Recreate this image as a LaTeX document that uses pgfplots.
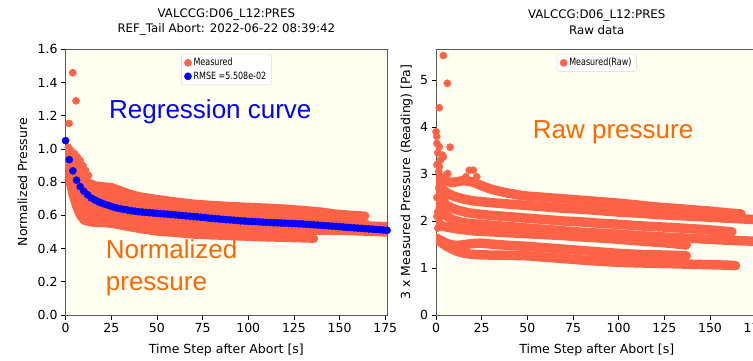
\documentclass[border=0pt]{standalone}
\usepackage{fontspec}
\setmainfont{DejaVu Sans}
\newfontfamily\annfont{Liberation Sans}
\newfontfamily\legfont[FakeStretch=0.8]{DejaVu Sans}
\usepackage{pgfplots}
\pgfplotsset{compat=1.18}
\definecolor{tomato}{RGB}{255,99,71}
\definecolor{bgivory}{RGB}{255,255,242}
\definecolor{annorange}{RGB}{255,102,0}
\definecolor{spine}{RGB}{90,90,90}
\pgfplotsset{
  base/.style={
    scale only axis,
    width=321.5pt, height=265.7pt,
    xmin=0, xmax=176, ymin=0,
    anchor=origin,
    axis background/.style={fill=bgivory},
    axis line style={spine, line width=0.9pt},
    tick align=outside, tick pos=left,
    major tick length=4.5pt,
    every tick/.style={black, line width=0.8pt},
    xtick={0,25,50,75,100,125,150,175},
    ticklabel style={font=\fontsize{12.5}{15}\selectfont},
    /pgf/number format/assume math mode=true,
    scaled ticks=false,
    xlabel={Time Step after Abort [s]},
    xlabel style={font=\fontsize{12.5}{15}\selectfont, at={(axis description cs:0.5,-0.132)}, anchor=center},
    ylabel style={font=\fontsize{12.5}{15}\selectfont, anchor=center},
    title style={font=\fontsize{11.8}{15.5}\selectfont, align=center, at={(axis description cs:0.5,1.08)}, anchor=center},
    legend style={at={(0.5,0.982)}, anchor=north, draw=gray!30, fill=white, rounded corners=1.5pt, font=\legfont\fontsize{10}{12}\selectfont, inner xsep=3pt, inner ysep=2pt, row sep=0.5pt},
    legend cell align=left,
  },
  trace/.style={no markers, color=tomato, line width=8.5pt, line join=round, line cap=round, forget plot},
  rtrace/.style={trace, line width=9.5pt},
  dots/.style={only marks, mark=*, mark size=3.6pt, color=tomato},
  bdots/.style={only marks, mark=*, mark size=3.6pt, color=blue},
}
\begin{document}
\begin{tikzpicture}[x=1pt,y=1pt]
\useasboundingbox (0,0) rectangle (753,360);
% ---------------- left: normalized ----------------
\begin{axis}[base, at={(65.6pt,45pt)}, ymax=1.6,
  ytick={0,0.2,0.4,0.6,0.8,1.0,1.2,1.4,1.6},
  yticklabel={\pgfmathprintnumber[fixed,fixed zerofill,precision=1]{\tick}},
  ylabel={Normalized Pressure},
  ylabel style={at={(axis description cs:-0.134,0.5)}},
  title={VALCCG:D06\_L12:PRES\\REF\_Tail Abort: 2022-06-22 08:39:42}]
\addlegendimage{dots}
\addlegendentry{Measured}
\addlegendimage{bdots}
\addlegendentry{RMSE =5.508e-02}
% La
\addplot[trace] coordinates {(0,1.00)(2,0.95)(4,0.91)(6,0.88)(8,0.85)(10,0.82)(13,0.795)(16,0.78)(20,0.775)(25,0.77)(30,0.75)(35,0.73)(40,0.715)(45,0.706)(50,0.698)(60,0.683)(70,0.670)(80,0.662)(90,0.656)(100,0.651)(110,0.646)(120,0.640)(130,0.632)(140,0.622)(147,0.611)(155,0.604)(161,0.60)(164,0.597)};
% Lc
\addplot[trace] coordinates {(0,0.99)(2,0.93)(4,0.88)(6,0.84)(8,0.81)(10,0.78)(13,0.76)(16,0.745)(20,0.735)(25,0.725)(30,0.712)(35,0.70)(40,0.688)(45,0.677)(50,0.667)(60,0.655)(70,0.645)(80,0.637)(90,0.63)(100,0.623)(110,0.617)(120,0.611)(130,0.604)(140,0.597)(150,0.59)(157,0.584)(162,0.58)};
% Lg
\addplot[trace] coordinates {(0,0.98)(2,0.91)(4,0.85)(6,0.80)(8,0.77)(10,0.74)(13,0.72)(16,0.705)(20,0.695)(25,0.685)(30,0.675)(35,0.664)(40,0.653)(45,0.643)(50,0.634)(60,0.622)(70,0.613)(80,0.605)(90,0.598)(100,0.593)(110,0.587)(120,0.582)(130,0.576)(140,0.57)(150,0.565)(158,0.56)(164,0.555)};
% Lb
\addplot[trace] coordinates {(0,0.97)(2,0.89)(4,0.82)(6,0.77)(8,0.73)(10,0.70)(13,0.68)(16,0.665)(20,0.655)(25,0.645)(30,0.636)(35,0.626)(40,0.617)(45,0.608)(50,0.60)(60,0.59)(70,0.581)(80,0.574)(90,0.568)(100,0.563)(110,0.559)(120,0.555)(130,0.551)(140,0.547)(150,0.544)(160,0.54)(170,0.537)(176,0.535)};
% Le
\addplot[trace] coordinates {(0,0.96)(2,0.87)(4,0.79)(6,0.73)(8,0.69)(10,0.66)(13,0.64)(16,0.625)(20,0.615)(25,0.607)(30,0.598)(35,0.59)(40,0.582)(45,0.575)(50,0.568)(60,0.556)(70,0.547)(80,0.54)(90,0.535)(100,0.532)(110,0.527)(120,0.523)(130,0.518)(137,0.515)};
% Ld
\addplot[trace] coordinates {(0,0.95)(2,0.85)(4,0.76)(6,0.69)(8,0.645)(10,0.62)(13,0.60)(16,0.59)(20,0.585)(25,0.578)(30,0.568)(35,0.558)(40,0.55)(45,0.542)(50,0.535)(60,0.525)(70,0.517)(80,0.512)(90,0.508)(100,0.505)(110,0.505)(120,0.506)(130,0.507)(140,0.508)(150,0.507)(160,0.504)(170,0.50)(176,0.497)};
% Lf
\addplot[trace] coordinates {(0,0.93)(2,0.82)(4,0.72)(6,0.65)(8,0.60)(10,0.57)(13,0.56)(16,0.555)(20,0.555)(25,0.55)(30,0.54)(40,0.52)(50,0.503)(60,0.495)(70,0.485)(80,0.48)(90,0.476)(100,0.472)(110,0.468)(120,0.465)(130,0.462)(136,0.46)};
% early scattered measured points
\addplot[dots, forget plot] coordinates {(1.9,1.154)(3.9,1.459)(5.7,1.29)(1.5,1.01)(3,0.99)(5,0.97)(6.5,0.95)(8,0.93)(9.5,0.90)(11,0.87)(7,0.91)(12.5,0.84)};
% regression
\addplot[bdots, forget plot] coordinates {(0,1.05)(2,0.935)(4,0.868)(6,0.812)(8,0.773)(10,0.745)(12,0.724)(14,0.705)(16,0.693)(18,0.682)(20,0.673)(22,0.665)(24,0.658)(26,0.651)(28,0.645)(30,0.640)(32,0.636)(34,0.632)(36,0.628)(38,0.625)(40,0.622)(42,0.620)(44,0.618)(46,0.616)(48,0.614)
(50,0.612)(52,0.610)(54,0.609)(56,0.607)(58,0.605)(60,0.603)(62,0.601)(64,0.599)(66,0.597)(68,0.595)(70,0.593)(72,0.591)(74,0.589)(76,0.587)(78,0.584)(80,0.582)(82,0.580)(84,0.578)(86,0.576)(88,0.574)(90,0.573)(92,0.571)(94,0.569)(96,0.567)(98,0.566)(100,0.564)(102,0.563)(104,0.562)(106,0.561)(108,0.559)(110,0.558)(112,0.557)(114,0.556)(116,0.555)(118,0.554)(120,0.553)(122,0.552)(124,0.551)(126,0.550)(128,0.549)(130,0.548)(132,0.546)(134,0.545)(136,0.543)(138,0.542)(140,0.540)(142,0.538)(144,0.537)(146,0.535)(148,0.534)(150,0.532)(152,0.530)(154,0.528)(156,0.527)(158,0.525)(160,0.523)(162,0.522)(164,0.520)(166,0.518)(168,0.517)(170,0.515)(172,0.514)(174,0.512)(176,0.510)};
\end{axis}
% ---------------- right: raw ----------------
\begin{axis}[base, at={(436pt,45pt)}, ymax=5.653,
  ytick={0,1,2,3,4,5},
  ylabel={3 x Measured Pressure (Reading) [Pa]},
  ylabel style={at={(axis description cs:-0.091,0.5)}},
  title={VALCCG:D06\_L12:PRES\\Raw data}]
\addlegendimage{dots}
\addlegendentry{Measured(Raw)}
% T1
\addplot[rtrace] coordinates {(0,2.95)(3,2.88)(6,2.84)(9,2.82)(12,2.84)(15,2.86)(20,2.83)(25,2.75)(30,2.68)(35,2.63)(40,2.59)(45,2.555)(50,2.53)(60,2.50)(70,2.47)(80,2.44)(90,2.41)(100,2.38)(110,2.34)(120,2.30)(130,2.27)(140,2.24)(150,2.21)(160,2.17)(167,2.15)};
% T2
\addplot[rtrace] coordinates {(0,2.80)(3,2.68)(6,2.60)(9,2.54)(12,2.50)(16,2.46)(20,2.43)(25,2.41)(30,2.39)(40,2.36)(50,2.33)(60,2.30)(70,2.27)(80,2.25)(90,2.22)(100,2.19)(110,2.17)(120,2.14)(130,2.12)(140,2.10)(150,2.08)(160,2.06)(170,2.04)(176,2.03)};
% T3
\addplot[rtrace] coordinates {(0,2.55)(3,2.42)(6,2.33)(9,2.27)(12,2.23)(16,2.19)(20,2.16)(25,2.14)(30,2.12)(40,2.09)(50,2.06)(60,2.03)(70,2.00)(80,1.98)(90,1.95)(100,1.93)(110,1.90)(120,1.88)(130,1.86)(140,1.835)(150,1.81)(157,1.785)(162,1.77)};
% T4
\addplot[rtrace] coordinates {(0,2.35)(3,2.20)(6,2.10)(9,2.03)(12,1.99)(16,1.96)(20,1.94)(25,1.93)(30,1.91)(40,1.88)(50,1.85)(60,1.82)(70,1.79)(80,1.76)(90,1.74)(100,1.72)(110,1.69)(120,1.67)(130,1.65)(140,1.63)(150,1.61)(160,1.59)(170,1.575)(176,1.57)};
% T5
\addplot[rtrace] coordinates {(0,1.95)(3,1.90)(6,1.87)(9,1.85)(12,1.83)(16,1.81)(20,1.79)(25,1.78)(30,1.77)(40,1.75)(50,1.73)(60,1.71)(70,1.69)(80,1.66)(90,1.64)(100,1.61)(110,1.58)(120,1.55)(130,1.52)(137,1.49)};
% T6
\addplot[rtrace] coordinates {(0,1.64)(3,1.58)(6,1.52)(9,1.49)(12,1.48)(16,1.50)(20,1.52)(25,1.53)(30,1.51)(40,1.48)(50,1.46)(60,1.43)(70,1.40)(80,1.37)(90,1.34)(100,1.31)(110,1.29)(120,1.28)(130,1.27)(137,1.26)};
% T7
\addplot[rtrace] coordinates {(0,1.62)(3,1.54)(6,1.46)(9,1.40)(12,1.35)(16,1.31)(20,1.29)(25,1.28)(30,1.275)(40,1.27)(50,1.26)(60,1.23)(70,1.20)(80,1.17)(90,1.145)(100,1.12)(110,1.11)(120,1.10)(130,1.09)(140,1.08)(150,1.07)(160,1.06)(164,1.05)};
% early scattered points
\addplot[dots, forget plot] coordinates {(0.4,3.80)(1.8,4.41)(1.8,3.58)(1.8,3.16)(4.0,5.52)(4.0,3.36)(3.6,3.40)(5.5,2.98)(6.2,4.93)(6.4,3.01)(7.7,3.57)(0,3.9)(0.5,3.65)(1,3.45)(0.5,3.2)(1.5,3.05)(2.5,3.3)(3,2.95)(16.4,2.94)(18.2,3.08)(20.4,3.08)(22.3,2.94)(0.5,2.5)(1.5,2.7)(1,2.2)(2,2.05)(2.5,2.25)(0.5,2.1)(3,2.5)(4,2.3)(5,2.45)(1,1.85)};
\node[anchor=west, inner sep=0pt, font=\fontsize{12.5}{15}\selectfont] at (axis description cs:0,1.035) {1e−7};
\end{axis}
% ---------------- annotations ----------------
\node[anchor=base west, inner sep=0pt, font=\annfont\fontsize{26}{30}\selectfont, text=blue] at (109,241.7) {Regression curve};
\node[anchor=base west, inner sep=0pt, font=\annfont\fontsize{26}{30}\selectfont, text=annorange] at (105.7,101.7) {Normalized};
\node[anchor=base west, inner sep=0pt, font=\annfont\fontsize{26}{30}\selectfont, text=annorange] at (105.7,70) {pressure};
\node[anchor=base west, inner sep=0pt, font=\annfont\fontsize{26}{30}\selectfont, text=annorange] at (532.7,221.7) {Raw pressure};
\end{tikzpicture}
\end{document}
